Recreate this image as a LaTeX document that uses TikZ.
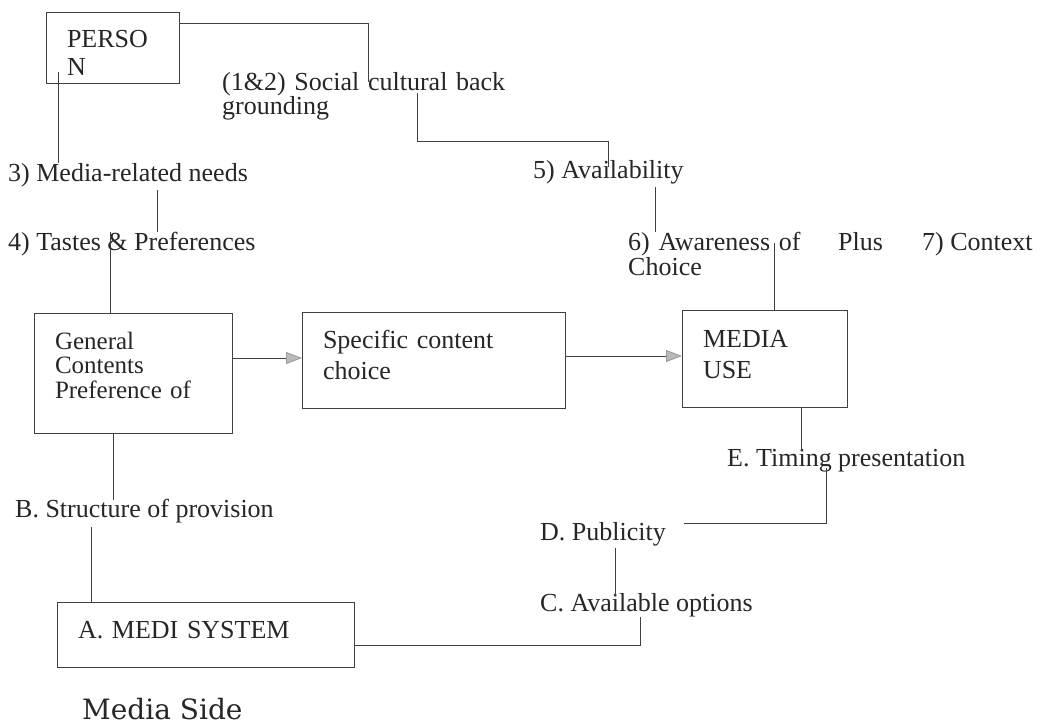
\documentclass[tikz,border=0pt]{standalone}
\usepackage{fontspec}
\setmainfont{Liberation Serif}
\newfontfamily\sidefont{DejaVu Serif}
\usetikzlibrary{arrows.meta}

\begin{document}
\begin{tikzpicture}[x=1pt,y=-1pt]
        \tikzstyle{every node}=[font=\fontsize{26}{28}\selectfont, text=black!85]
        \tikzstyle{box}=[draw=black!75, line width=0.8pt, anchor=north west, align=left, inner xsep=21pt, inner ysep=0pt, outer sep=0pt]
        \tikzstyle{lbl}=[anchor=base west, inner sep=0pt, align=left]
        \tikzstyle{wire}=[draw=black!75, line width=0.8pt]
        \tikzstyle{flow}=[wire, -{Triangle[length=16pt, width=12pt, fill=gray!55, color=gray!80]}]

        \useasboundingbox (0,0) rectangle (1051,726);

        % boxes
        \node (person)   [box, text width=91pt, text height=35pt, text depth=36pt] at (46,12) {PERSO\\N};
        \node (general)  [box, text width=156pt, text height=36pt, text depth=84pt, font=\fontsize{25}{24.5}\selectfont] at (34,313) {General\\Contents\\Preference of};
        \node (specific) [box, text width=221pt, text height=36pt, text depth=60pt, font=\fontsize{26}{31}\selectfont] at (302,312) {Specific content\\choice};
        \node (media)    [box, text width=123pt, text height=37pt, text depth=60pt, font=\fontsize{26}{31}\selectfont] at (682,310) {MEDIA\\USE};
        \node (medi)     [box, text width=255pt, text height=36pt, text depth=29pt] at (57,602) {A. MEDI SYSTEM};

        % texts
        \node (social)    [lbl, text width=300pt, font=\fontsize{26}{23}\selectfont] at (222,90) {(1\&2) Social cultural back\\grounding};
        \node (needs)     [lbl] at (8,181) {3) Media-related needs};
        \node (tastes)    [lbl] at (8,250) {4) Tastes \& Preferences};
        \node (avail)     [lbl] at (533,178) {5) Availability};
        \node (aware)     [lbl, text width=180pt, font=\fontsize{26}{25}\selectfont] at (628,250) {6) Awareness of\\Choice};
        \node (plus)      [lbl] at (838,250) {Plus};
        \node (context)   [lbl] at (922,250) {7) Context};
        \node (timing)    [lbl] at (727,466) {E. Timing presentation};
        \node (publicity) [lbl] at (540,540) {D. Publicity};
        \node (options)   [lbl] at (540,611) {C. Available options};
        \node (structure) [lbl] at (15,517) {B. Structure of provision};
        \node (side)      [lbl, font=\sidefont\fontsize{28}{30}\selectfont] at (82,719) {Media Side};

        % person side
        \draw[wire] ([yshift=-11pt]person.north east) -| ([xshift=146pt, yshift=8pt]social.base west);
        \draw[wire] ([xshift=195pt, yshift=-3pt]social.base west) |- ([xshift=75pt, yshift=37pt]avail.base west) -- ([xshift=75pt, yshift=11pt]avail.base west);
        \draw[wire] ([xshift=12pt, yshift=11pt]person.south west) -- ([xshift=50pt, yshift=18pt]needs.base west);
        \draw[wire] ([xshift=149pt, yshift=-9pt]needs.base west) -- ([xshift=149pt, yshift=18pt]tastes.base west);
        \draw[wire] ([xshift=102pt, yshift=18pt]tastes.base west) -- ([xshift=-23pt]general.north);
        \draw[wire] ([xshift=122pt, yshift=-9pt]avail.base west) -- ([xshift=27pt, yshift=18pt]aware.base west);
        \draw[wire] ([xshift=146pt, yshift=7pt]aware.base west) -- ([xshift=9.5pt]media.north);

        % main flow
        \draw[flow] ([yshift=15pt]general.east) -- ([yshift=15pt]general.east -| specific.west);
        \draw[flow] ([yshift=4pt]specific.east) -- ([yshift=4pt]specific.east -| media.west);

        % media side
        \draw[wire] ([xshift=36.5pt]media.south) -- ([xshift=74pt, yshift=16pt]timing.base west);
        \draw[wire] ([xshift=99pt, yshift=-2pt]timing.base west) |- ([xshift=144pt, yshift=17pt]publicity.base west);
        \draw[wire] ([xshift=75pt, yshift=-8pt]publicity.base west) -- ([xshift=75pt, yshift=16pt]options.base west);
        \draw[wire] ([yshift=-10.5pt]medi.east) -| ([xshift=100pt, yshift=-6pt]options.base west);
        \draw[wire] ([xshift=-20pt]general.south) -- ([xshift=98pt, yshift=17pt]structure.base west);
        \draw[wire] ([xshift=76pt, yshift=-10pt]structure.base west) -- ([xshift=34pt]medi.north west);
\end{tikzpicture}
\end{document}
